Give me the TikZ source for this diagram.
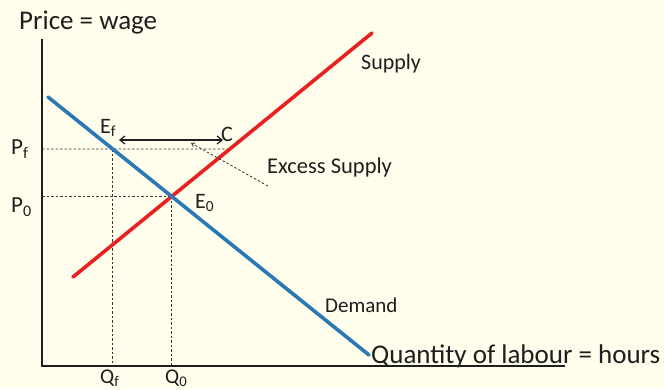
\documentclass[tikz,border=0pt]{standalone}
\usepackage{fontspec}
\setmainfont{Carlito}
\usetikzlibrary{arrows.meta,calc}
\definecolor{bgcream}{HTML}{FFFDEB}
\definecolor{demandblue}{HTML}{2A78B4}
\definecolor{supplyred}{HTML}{E82020}
\definecolor{inkgray}{HTML}{1E1E1E}
\tikzset{
  axisline/.style={draw=inkgray, line width=1.3pt},
  curve/.style={line width=3.6pt, line cap=round},
  guide/.style={draw=inkgray!90, line width=0.8pt, dash pattern=on 2.5pt off 2pt},
  lbl/.style={inner sep=0pt, text=inkgray},
}
\begin{document}
\begin{tikzpicture}[x=1pt,y=-1pt]
  \fill[bgcream] (0,0) rectangle (664,389);
  \useasboundingbox (0,0) rectangle (664,389);

  % axes
  \coordinate (O) at (42,366);
  \coordinate (Ytop) at (42,39);
  \coordinate (Xend) at (565,366);
  \draw[axisline] (Ytop) -- (O) -- (Xend);

  % curves
  \coordinate (D1) at (48,97);
  \coordinate (D2) at (369,355);
  \coordinate (S1) at (73,277);
  \coordinate (S2) at (372,33);
  \coordinate (E0) at (intersection of D1--D2 and S1--S2);
  \coordinate (PfA) at (42,149);
  \coordinate (QfB) at ($(D1)!{(149-97)/(355-97)}!(D2)$);
  \coordinate (CB) at ($(S1)!{(277-149)/(277-33)}!(S2)$);
  \coordinate (P0A) at (O |- E0);
  \coordinate (Q0B) at (E0 |- O);
  \coordinate (QfA) at (QfB |- O);

  % guides
  \draw[guide] (PfA) -- (CB);
  \draw[guide] (P0A) -- (E0);
  \draw[guide] (QfB) -- (QfA);
  \draw[guide] (E0) -- (Q0B);

  \draw[curve, draw=supplyred] (S1) -- (S2);
  \draw[curve, draw=demandblue] (D1) -- (D2);

  % excess supply arrow
  \coordinate (AL) at (119,140);
  \coordinate (AR) at (223,140);
  \draw[inkgray, line width=1.2pt, {Straight Barb[length=5pt,width=8pt]}-{Straight Barb[length=5pt,width=8pt]}] (AL) -- (AR);
  \coordinate (XsTail) at (268,186);
  \coordinate (XsHead) at (191,143);
  \draw[guide, -{Straight Barb[length=3pt,width=4pt]}] (XsTail) -- (XsHead);

  % labels
  \node[lbl, font=\fontsize{27}{29}\selectfont, anchor=west] (ty) at (19,23) {Price = wage};
  \node[lbl, font=\fontsize{27}{29}\selectfont, anchor=west] (tx) at (371,356) {Quantity of labour = hours};
  \node[lbl, font=\fontsize{22}{24}\selectfont, anchor=west] (tsup) at (361,64) {Supply};
  \node[lbl, font=\fontsize{21}{24}\selectfont, anchor=west] (tdem) at (325,305) {Demand};
  \node[lbl, font=\fontsize{22.5}{24}\selectfont, anchor=west] (tex) at (267,167) {Excess Supply};
  \node[lbl, font=\fontsize{22}{24}\selectfont, anchor=west] (tEf) at (100,128) {E\textsubscript{f}};
  \node[lbl, font=\fontsize{22}{24}\selectfont, anchor=west] (tC) at (221,134) {C};
  \node[lbl, font=\fontsize{22}{24}\selectfont, anchor=west] (tE0) at (195,203) {E\textsubscript{0}};
  \node[lbl, font=\fontsize{23}{24}\selectfont, anchor=west] (tPf) at (11,149) {P\textsubscript{f}};
  \node[lbl, font=\fontsize{23}{24}\selectfont, anchor=west] (tP0) at (11,207) {P\textsubscript{0}};
  \node[lbl, font=\fontsize{21}{24}\selectfont, anchor=south west] (tQf) at (100,386.5) {Q\textsubscript{f}};
  \node[lbl, font=\fontsize{21}{24}\selectfont, anchor=south west] (tQ0) at (165,386.5) {Q\textsubscript{0}};
\end{tikzpicture}
\end{document}
